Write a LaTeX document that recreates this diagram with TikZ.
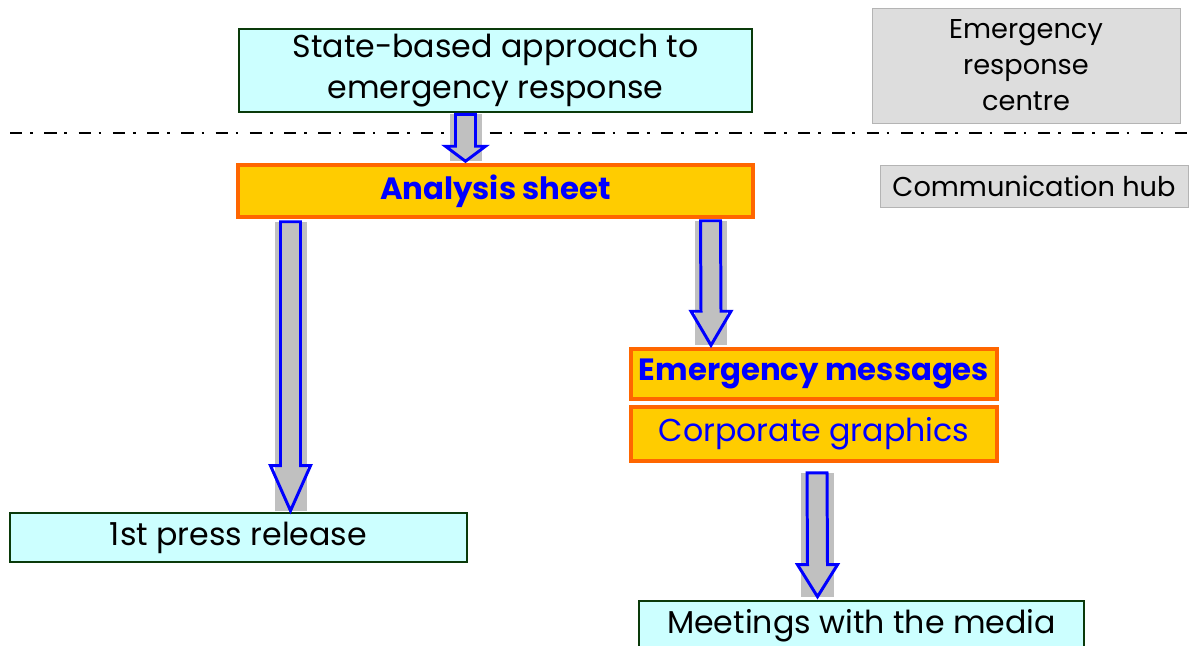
\documentclass[tikz,border=0pt]{standalone}
\usepackage{fontspec}
\setmainfont{Poppins}
\usetikzlibrary{calc}

\definecolor{paleCyan}{HTML}{CCFFFF}
\definecolor{darkGreen}{HTML}{0A3A0A}
\definecolor{sheetYellow}{HTML}{FFCC00}
\definecolor{sheetOrange}{HTML}{FF6600}
\definecolor{hubGray}{HTML}{DDDDDD}
\definecolor{hubEdge}{HTML}{B4B4B4}
\definecolor{shadeGray}{HTML}{C0C0C0}

% hollow block arrow on a grey backing: start, tip, head length
\newcommand{\blockarrow}[3]{%
  \fill[arrowshade] ($(#1)+(-16,0)$) rectangle ($(#2)+(16,0)$);
  \draw[arrowline] ($(#1)+(-10,0)$) -- ($(#2)+(-10,-#3)$) -- ($(#2)+(-20,-#3)$)
    -- (#2) -- ($(#2)+(20,-#3)$) -- ($(#2)+(10,-#3)$) -- ($(#1)+(10,0)$) -- cycle;
}

\begin{document}
\begin{tikzpicture}[x=0.02cm, y=-0.02cm,
    font=\fontsize{18}{23.5}\selectfont,
    stepbox/.style={draw=darkGreen, line width=1.5pt, fill=paleCyan, inner sep=0pt},
    sheetbox/.style={draw=sheetOrange, line width=2pt, fill=sheetYellow, inner sep=0pt,
      text=blue},
    bold/.style={font=\fontsize{17.5}{21}\selectfont\bfseries},
    placebox/.style={draw=hubEdge, line width=0.5pt, fill=hubGray, inner sep=0pt,
      font=\fontsize{15.5}{20.5}\selectfont},
    arrowshade/.style={fill=shadeGray},
    arrowline/.style={draw=blue, line width=1.7pt, line join=miter}]
  \useasboundingbox (0,0) rectangle (1194,646);

  % Separator between centre and hub
  \draw[line width=1.1pt, dash pattern=on 7pt off 4.5pt on 1.5pt off 6.5pt]
    (10,133) -- (1194,133);

  % Places
  \node[placebox, minimum width=6.16cm, minimum height=2.3cm, align=center]
    (centre) at (1026,65.5) {Emergency\\response\\centre};
  \node[placebox, minimum width=6.16cm, minimum height=0.84cm]
    (hub) at (1034,186) {Communication hub};

  % Flow boxes
  \node[stepbox, minimum width=10.26cm, minimum height=1.66cm, align=center]
    (state) at (495.5,70.5) {State-based approach to\\emergency response};
  \node[sheetbox, bold, minimum width=10.3cm, minimum height=1.04cm]
    (sheet) at (495.5,191) {Analysis sheet};
  \node[sheetbox, bold, minimum width=7.32cm, minimum height=1.0cm]
    (messages) at (814,374) {Emergency messages};
  \node[sheetbox, minimum width=7.32cm, minimum height=1.08cm]
    (graphics) at (814,434) {Corporate graphics};
  \node[stepbox, minimum width=9.14cm, minimum height=0.98cm]
    (press) at (238.5,537.5) {1st press release};
  \node[stepbox, minimum width=8.9cm, minimum height=1.0cm]
    (media) at (861.5,626) {Meetings with the media};

  % Arrow ends
  \coordinate (a1s) at ($(state.south)+(-30,1)$);
  \coordinate (a1e) at ($(sheet.north)+(-30,-2)$);
  \coordinate (a2s) at ($(sheet.south)+(-205,3)$);
  \coordinate (a2e) at ($(press.north)+(52,-1)$);
  \coordinate (a3s) at ($(sheet.south)+(215,2)$);
  \coordinate (a3e) at ($(messages.north)+(-103,-2)$);
  \coordinate (a4s) at ($(graphics.south)+(3,10)$);
  \coordinate (a4e) at ($(media.north)+(-44,-3)$);

  % Arrows
  \blockarrow{a1s}{a1e}{15}
  \blockarrow{a2s}{a2e}{45}
  \blockarrow{a3s}{a3e}{34}
  \blockarrow{a4s}{a4e}{32}
\end{tikzpicture}
\end{document}
